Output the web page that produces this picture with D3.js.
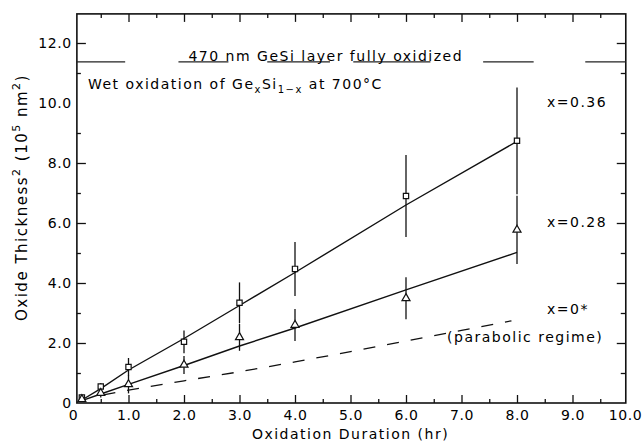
<!DOCTYPE html>
<html>
<head>
<meta charset="utf-8">
<script src="https://cdn.jsdelivr.net/npm/d3@7"></script>
<style>
  body { margin: 0; background: #fff; }
  svg text { font-family: "DejaVu Sans", sans-serif; fill: #000; }
</style>
</head>
<body>
<svg id="chart" width="644" height="445"></svg>
<script>
// oxidation time (hr)
var hours = [0.16, 0.5, 1.0, 2.0, 3.0, 4.0, 6.0, 8.0]

// x=0.36 (squares)
var sqVals = [0.18, 0.55, 1.2, 2.04, 3.34, 4.47, 6.9, 8.74]
var sqErr  = [0.05, 0.12, 0.3, 0.38, 0.68, 0.9, 1.37, 1.78]
var fit36  = [0.1, 0.48, 1.1, 2.15, 3.25, 4.35, 6.6, 8.72]

// x=0.28 (triangles)
var triVals = [0.12, 0.33, 0.62, 1.27, 2.19, 2.6, 3.49, 5.77]
var triErr  = [0.04, 0.15, 0.3, 0.3, 0.45, 0.53, 0.7, 1.14]
var fit28   = [0.08, 0.3, 0.62, 1.25, 1.9, 2.5, 3.77, 5.02]

// x=0* parabolic regime (dashed)
var hoursX0 = [0.55, 1.0, 2.0, 3.0, 4.0, 5.0, 6.0, 7.0, 7.9]
var valsX0  = [0.27, 0.43, 0.74, 1.04, 1.37, 1.71, 2.07, 2.42, 2.74]

// 470 nm layer fully oxidized level, broken line pieces
var layerLevel = 11.37
var layerSegs = [[0.07, 0.94], [1.9, 2.8], [3.5, 4.63], [5.05, 6.44], [7.39, 8.3], [9.23, 9.96]]

var xMajor = [0, 1, 2, 3, 4, 5, 6, 7, 8, 9, 10]
var xMinor = [0.5, 1.5, 2.5, 3.5, 4.5, 5.5, 6.5, 7.5, 8.5, 9.5]
var yMajor = [0, 2, 4, 6, 8, 10, 12]
var yMinor = [1, 3, 5, 7, 9, 11]

var svg = d3.select("#chart")

var x = d3.scaleLinear().domain([0, 10]).range([73, 628])
var y = d3.scaleLinear().domain([0, 13]).range([403, 13])

var fx0 = x(0.07), fx1 = x(9.96), fy0 = y(0), fy1 = y(12.97)

var fmt = d => d === 0 ? "0" : d.toFixed(1)

// axes, ticks pointing inward
var gB = svg.append("g").attr("transform", "translate(0," + fy0 + ")")
  .call(d3.axisBottom(x).tickValues(xMajor).tickSize(-8).tickPadding(7).tickFormat(fmt))
gB.append("g").call(d3.axisBottom(x).tickValues(xMinor).tickSize(-4).tickFormat(""))

var gT = svg.append("g").attr("transform", "translate(0," + fy1 + ")")
  .call(d3.axisTop(x).tickValues(xMajor).tickSize(-8).tickFormat(""))
gT.append("g").call(d3.axisTop(x).tickValues(xMinor).tickSize(-4).tickFormat(""))

var gL = svg.append("g").attr("transform", "translate(" + fx0 + ",0)")
  .call(d3.axisLeft(y).tickValues(yMajor).tickSize(-9).tickPadding(5).tickFormat(fmt))
gL.append("g").call(d3.axisLeft(y).tickValues(yMinor).tickSize(-4).tickFormat(""))

var gR = svg.append("g").attr("transform", "translate(" + fx1 + ",0)")
  .call(d3.axisRight(y).tickValues(yMajor).tickSize(-9).tickFormat(""))
gR.append("g").call(d3.axisRight(y).tickValues(yMinor).tickSize(-5).tickFormat(""))

svg.selectAll(".domain").remove()
svg.selectAll(".tick").filter(d => d === 0 || d === 10).select("line").remove()
svg.selectAll(".tick line").attr("stroke", "#111").attr("stroke-width", 1.3)
svg.selectAll(".tick text")
  .attr("font-size", 14)
  .attr("letter-spacing", 0.6)
  .attr("font-family", "DejaVu Sans")
  .attr("fill", "#000")
gB.selectAll(".tick text").filter(d => d === 10).attr("dx", -3)

svg.append("rect")
  .attr("x", fx0).attr("y", fy1)
  .attr("width", fx1 - fx0).attr("height", fy0 - fy1)
  .attr("fill", "none").attr("stroke", "#111").attr("stroke-width", 1.6)

// layer fully oxidized line
svg.append("g").selectAll("line")
  .data(layerSegs).enter().append("line")
  .attr("x1", d => x(d[0])).attr("x2", d => x(d[1]))
  .attr("y1", y(layerLevel)).attr("y2", y(layerLevel))
  .attr("stroke", "#222").attr("stroke-width", 1.2)

// error bars
var errs = hours.map((h, i) => [h, sqVals[i], sqErr[i]])
  .concat(hours.map((h, i) => [h, triVals[i], triErr[i]]))
svg.append("g").selectAll("line")
  .data(errs).enter().append("line")
  .attr("x1", d => x(d[0])).attr("x2", d => x(d[0]))
  .attr("y1", d => y(d[1] - d[2])).attr("y2", d => y(d[1] + d[2]))
  .attr("stroke", "#111").attr("stroke-width", 1.3)

// fitted lines
var line = d3.line().x(d => x(d[0])).y(d => y(d[1]))
svg.append("path")
  .attr("d", line(hours.map((h, i) => [h, fit36[i]])))
  .attr("fill", "none").attr("stroke", "#111").attr("stroke-width", 1.4)
svg.append("path")
  .attr("d", line(hours.map((h, i) => [h, fit28[i]])))
  .attr("fill", "none").attr("stroke", "#111").attr("stroke-width", 1.4)
svg.append("path")
  .attr("d", line(hoursX0.map((h, i) => [h, valsX0[i]])))
  .attr("fill", "none").attr("stroke", "#111").attr("stroke-width", 1.3)
  .attr("stroke-dasharray", "12,12")

// markers
svg.append("g").selectAll("path")
  .data(hours.map((h, i) => [h, sqVals[i]])).enter().append("path")
  .attr("d", d3.symbol(d3.symbolSquare, 28))
  .attr("transform", d => "translate(" + x(d[0]) + "," + y(d[1]) + ")")
  .attr("fill", "#fff").attr("stroke", "#111").attr("stroke-width", 1.2)

svg.append("g").selectAll("path")
  .data(hours.map((h, i) => [h, triVals[i]])).enter().append("path")
  .attr("d", d3.symbol(d3.symbolTriangle, 28))
  .attr("transform", d => "translate(" + x(d[0]) + "," + y(d[1]) + ")")
  .attr("fill", "#fff").attr("stroke", "#111").attr("stroke-width", 1.2)

// annotations
function label(tx, ty, str, anchor) {
  return svg.append("text")
    .attr("x", x(tx)).attr("y", y(ty))
    .attr("font-size", 14).attr("letter-spacing", 1.5)
    .attr("text-anchor", anchor || "start")
    .text(str)
}

label(2.08, 11.4, "470 nm GeSi layer fully oxidized")

var wet = label(0.27, 10.46, "Wet oxidation of Ge")
wet.append("tspan").attr("font-size", 10).attr("dy", 4).text("x")
wet.append("tspan").attr("dy", -4).text("Si")
wet.append("tspan").attr("font-size", 10).attr("dy", 4).text("1\u2212x")
wet.append("tspan").attr("dy", -4).text(" at 700\u00b0C")

label(8.54, 9.88, "x=0.36")
label(8.54, 5.88, "x=0.28")
label(8.54, 2.97, "x=0*")
label(6.74, 2.04, "(parabolic regime)")

// axis titles
svg.append("text")
  .attr("x", x(5)).attr("y", 439)
  .attr("text-anchor", "middle")
  .attr("font-size", 14).attr("letter-spacing", 1.5)
  .text("Oxidation Duration (hr)")

var yt = svg.append("text")
  .attr("transform", "translate(27," + y(6.85) + ") rotate(-90)")
  .attr("text-anchor", "middle")
  .attr("font-size", 15).attr("letter-spacing", 1.5)
yt.append("tspan").text("Oxide Thickness")
yt.append("tspan").attr("font-size", 11).attr("dy", -7).text("2")
yt.append("tspan").attr("dy", 7).text(" (10")
yt.append("tspan").attr("font-size", 11).attr("dy", -7).text("5")
yt.append("tspan").attr("dy", 7).text(" nm")
yt.append("tspan").attr("font-size", 11).attr("dy", -7).text("2")
yt.append("tspan").attr("dy", 7).text(")")
</script>
</body>
</html>
